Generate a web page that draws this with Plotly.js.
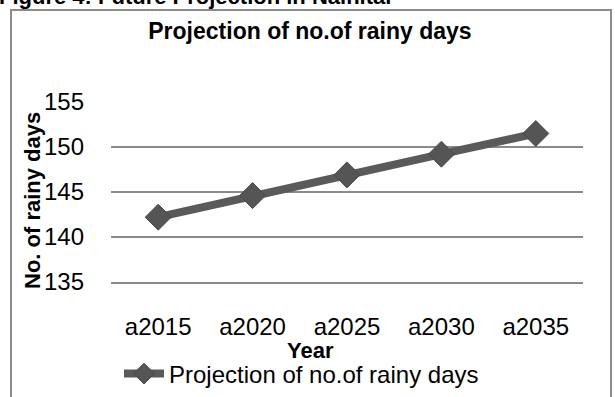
<!DOCTYPE html>
<html>
<head>
<meta charset="utf-8">
<script src="https://cdn.plot.ly/plotly-3.0.1.min.js"></script>
<style>html,body{margin:0;padding:0;background:#fff;}#chart{width:615px;height:397px;}</style>
</head>
<body>
<div id="chart"></div>
<script>
var years = ["a2015", "a2020", "a2025", "a2030", "a2035"];
var rainyDays = [142.2, 144.6, 146.9, 149.2, 151.5];
var yTicks = [135, 140, 145, 150, 155];
var seriesName = "Projection of no.of rainy days";
var chartTitle = "Projection of no.of rainy days";
var xTitle = "Year";
var yTitle = "No. of rainy days";
var caption = "Figure 4: Future Projection in Nainital";

var FONT = "Liberation Sans, Arial, sans-serif";
var trace = {
  x: years, y: rainyDays, name: seriesName, type: "scatter", mode: "lines+markers",
  line: {color: "#5a5a5a", width: 8},
  marker: {symbol: "diamond", size: 20, color: "#555555", line: {color: "#4a4a4a", width: 1}}
};
var layout = {
  width: 615, height: 397,
  margin: {l: 111, r: 32, t: 102, b: 115},
  paper_bgcolor: "#fff", plot_bgcolor: "#fff",
  showlegend: true,
  font: {family: FONT, color: "#000", size: 24},
  title: {text: "<b>" + chartTitle + "</b>", font: {family: FONT, size: 23, color: "#000"},
          xref: "container", x: 0.504, xanchor: "center", yref: "container", y: 1 - 31/397, yanchor: "middle"},
  xaxis: {type: "category", range: [-0.5, 4.5], tickfont: {size: 24, color: "#000"}, showgrid: false, zeroline: false,
          showline: true, linecolor: "#888", linewidth: 2, ticks: "", ticklen: 0, ticklabelstandoff: 22},
  yaxis: {range: [135, 155], tickvals: yTicks, ticktext: yTicks.map(String), tickfont: {size: 24, color: "#000"},
          showgrid: true, gridcolor: "#8a8a8a", gridwidth: 2, zeroline: false, showline: false, ticks: "",
          ticklabelstandoff: 26},
  legend: {orientation: "h", xref: "container", yref: "container", x: 119/615, xanchor: "left",
           y: 1 - 374/397, yanchor: "middle", font: {size: 24, color: "#000"}, bgcolor: "rgba(0,0,0,0)", itemwidth: 40},
  shapes: [{type: "rect", xref: "paper", yref: "paper", x0: -100/472, x1: 1 + 28/472, y0: -130/180, y1: 1 + 92/180,
            line: {color: "#8c8c8c", width: 2}, fillcolor: "rgba(0,0,0,0)"}],
  annotations: [
    {text: "<b>" + caption + "</b>", xref: "paper", yref: "paper", x: -114/472, xanchor: "left",
     y: 1 + 91/180, yanchor: "bottom", showarrow: false, font: {size: 22, color: "#000", family: FONT}},
    {text: "<b>" + xTitle + "</b>", xref: "paper", yref: "paper", x: (310 - 111)/472, xanchor: "center",
     y: -(350 - 282)/180, yanchor: "middle", showarrow: false, font: {size: 22, color: "#000", family: FONT}},
    {text: "<b>" + yTitle + "</b>", xref: "paper", yref: "paper", x: (32 - 111)/472, xanchor: "center",
     y: (282 - 201)/180, yanchor: "middle", textangle: -90, showarrow: false, font: {size: 22, color: "#000", family: FONT}}
  ]
};
Plotly.newPlot("chart", [trace], layout, {displayModeBar: false, staticPlot: true});
</script>
</body>
</html>
